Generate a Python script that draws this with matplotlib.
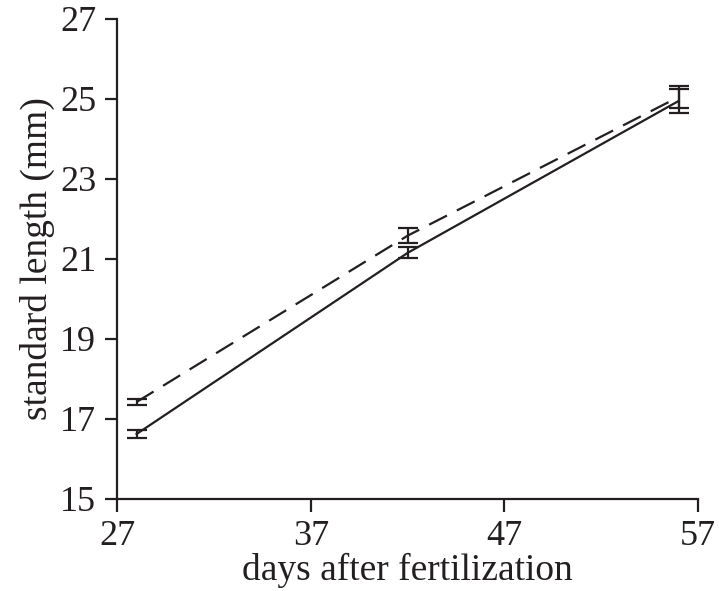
import matplotlib.pyplot as plt

plt.rcParams['font.family'] = ['Liberation Serif', 'DejaVu Serif']

days = [28, 42, 56]
solid_mean = [16.62, 21.15, 24.95]
solid_err = [0.1, 0.14, 0.3]
dashed_mean = [17.42, 21.58, 25.05]
dashed_err = [0.08, 0.18, 0.28]

fig = plt.figure(figsize=(7.19, 5.91), dpi=100)
ax = fig.add_axes([0.163, 0.156, 0.808, 0.812])

ax.errorbar(days, solid_mean, yerr=solid_err, color='#231f20', lw=1.6,
            capsize=7, elinewidth=1.6, capthick=1.6)
ax.errorbar(days, dashed_mean, yerr=dashed_err, color='#231f20', lw=1.6,
            dashes=(9, 5), capsize=7, elinewidth=1.6, capthick=1.6)

ax.set_xlim(27, 57)
ax.set_ylim(15, 27)
ax.set_xticks([27, 37, 47, 57])
ax.set_yticks([15, 17, 19, 21, 23, 25, 27])
ax.spines['top'].set_visible(False)
ax.spines['right'].set_visible(False)
for s in ['left', 'bottom']:
    ax.spines[s].set_linewidth(1.6)
    ax.spines[s].set_color('#231f20')
ax.tick_params(direction='out', length=9, width=1.6, colors='#231f20',
               labelsize=26, pad=6)
ax.set_xlabel('days after fertilization', fontsize=27, color='#231f20', labelpad=0)
ax.set_ylabel('standard length (mm)', fontsize=27, color='#231f20', labelpad=4)

fig.savefig('out.png', dpi=100)
